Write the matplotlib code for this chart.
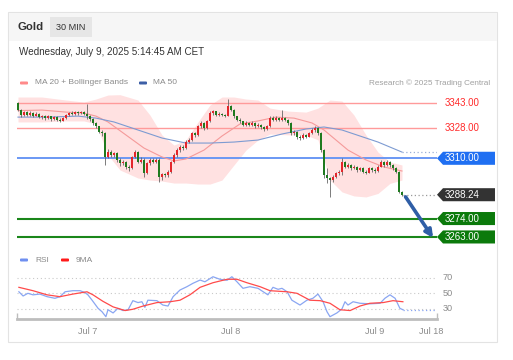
import numpy as np
import matplotlib.pyplot as plt
from matplotlib.patches import Rectangle, Polygon, FancyBboxPatch

plt.rcParams['font.family'] = ['Liberation Sans', 'DejaVu Sans']

# 30-minute candles (bar index 0 = Jul 4 afternoon, last = Jul 9 ~05:00)
opens = [3343.0, 3339.0, 3336.0, 3337.5, 3336.0, 3337.0, 3335.5, 3336.5, 3334.5, 3335.5,
         3334.0, 3335.0, 3333.5, 3334.5, 3333.0, 3332.5, 3334.0, 3336.0, 3337.0, 3336.5,
         3337.5, 3337.0, 3337.5, 3336.5, 3335.0, 3333.5, 3331.0, 3329.0, 3326.0, 3325.0,
         3311.0, 3314.0, 3312.0, 3313.0, 3309.0, 3307.0, 3308.0, 3305.0, 3304.0, 3311.0,
         3314.0, 3308.0, 3309.0, 3301.0, 3307.0, 3309.0, 3308.0, 3309.0, 3299.0, 3300.5,
         3300.0, 3302.0, 3308.0, 3312.0, 3315.0, 3317.0, 3316.0, 3320.0, 3321.0, 3325.0,
         3324.0, 3329.0, 3331.0, 3328.0, 3332.0, 3337.0, 3338.0, 3336.0, 3336.5, 3336.0,
         3335.5, 3341.0, 3339.0, 3335.0, 3333.0, 3332.0, 3330.0, 3331.0, 3330.0, 3331.0,
         3329.0, 3330.0, 3328.5, 3327.5, 3329.0, 3334.0, 3333.0, 3334.0, 3333.0, 3334.0,
         3333.0, 3331.0, 3325.0, 3326.0, 3323.0, 3322.0, 3324.0, 3323.0, 3325.0, 3327.0,
         3328.0, 3325.0, 3315.0, 3300.0, 3298.0, 3297.0, 3299.0, 3301.0, 3302.0, 3308.0,
         3305.0, 3306.0, 3304.0, 3305.0, 3303.0, 3304.0, 3302.0, 3301.5, 3304.0, 3303.0,
         3302.5, 3305.0, 3308.0, 3306.0, 3308.0, 3306.0, 3304.0, 3302.0, 3290.0]
closes = [3339.0, 3336.0, 3337.5, 3336.0, 3337.0, 3335.5, 3336.5, 3334.5, 3335.5, 3334.0,
          3335.0, 3333.5, 3334.5, 3333.0, 3332.5, 3334.0, 3336.0, 3337.0, 3336.5, 3337.5,
          3337.0, 3337.5, 3336.5, 3335.0, 3333.5, 3331.0, 3329.0, 3326.0, 3325.0, 3311.0,
          3314.0, 3312.0, 3313.0, 3309.0, 3307.0, 3308.0, 3305.0, 3304.0, 3311.0, 3314.0,
          3308.0, 3309.0, 3301.0, 3307.0, 3309.0, 3308.0, 3309.0, 3299.0, 3300.5, 3300.0,
          3302.0, 3308.0, 3312.0, 3315.0, 3317.0, 3316.0, 3320.0, 3321.0, 3325.0, 3324.0,
          3329.0, 3331.0, 3328.0, 3332.0, 3337.0, 3338.0, 3336.0, 3336.5, 3336.0, 3335.5,
          3341.0, 3339.0, 3335.0, 3333.0, 3332.0, 3330.0, 3331.0, 3330.0, 3331.0, 3329.0,
          3330.0, 3328.5, 3327.5, 3329.0, 3334.0, 3333.0, 3334.0, 3333.0, 3334.0, 3333.0,
          3331.0, 3325.0, 3326.0, 3323.0, 3322.0, 3324.0, 3323.0, 3325.0, 3327.0, 3328.0,
          3325.0, 3315.0, 3300.0, 3298.0, 3297.0, 3299.0, 3301.0, 3302.0, 3308.0, 3305.0,
          3306.0, 3304.0, 3305.0, 3303.0, 3304.0, 3302.0, 3301.5, 3304.0, 3303.0, 3302.5,
          3305.0, 3308.0, 3306.0, 3308.0, 3306.0, 3304.0, 3302.0, 3290.0, 3288.24]
highs = [3343.8, 3339.5, 3338.5, 3338.0, 3338.0, 3337.5, 3337.5, 3337.0, 3336.0, 3336.0,
         3336.0, 3335.5, 3335.5, 3335.0, 3334.0, 3334.5, 3336.5, 3337.5, 3338.0, 3338.0,
         3338.0, 3338.0, 3338.0, 3342.5, 3336.0, 3334.0, 3331.5, 3329.5, 3327.0, 3326.0,
         3315.5, 3315.0, 3314.0, 3313.5, 3310.0, 3309.0, 3308.5, 3306.0, 3311.5, 3315.0,
         3314.5, 3310.5, 3310.0, 3308.0, 3310.0, 3310.0, 3310.0, 3310.0, 3301.5, 3301.5,
         3303.0, 3308.5, 3313.0, 3316.0, 3318.0, 3318.0, 3321.0, 3322.0, 3326.0, 3326.0,
         3330.0, 3332.0, 3331.5, 3333.0, 3338.0, 3339.0, 3338.5, 3337.5, 3337.0, 3336.5,
         3345.5, 3342.0, 3339.5, 3335.5, 3334.0, 3332.5, 3332.0, 3331.5, 3332.0, 3331.5,
         3331.0, 3330.5, 3329.0, 3330.0, 3335.0, 3335.0, 3335.0, 3334.5, 3339.0, 3334.5,
         3333.5, 3331.5, 3327.0, 3326.5, 3324.0, 3325.0, 3324.5, 3326.0, 3328.0, 3329.0,
         3328.5, 3325.5, 3315.5, 3304.0, 3299.0, 3300.0, 3302.0, 3303.0, 3310.0, 3308.5,
         3307.0, 3306.5, 3306.0, 3305.5, 3305.0, 3304.5, 3303.0, 3305.0, 3304.5, 3304.0,
         3306.0, 3309.0, 3308.5, 3309.0, 3308.5, 3306.5, 3305.0, 3302.5, 3290.5]
lows = [3338.0, 3334.5, 3335.0, 3335.0, 3335.5, 3334.5, 3335.0, 3334.0, 3333.5, 3333.0,
        3333.5, 3332.5, 3333.0, 3332.0, 3331.5, 3332.0, 3333.5, 3335.5, 3336.0, 3336.0,
        3336.0, 3336.5, 3336.0, 3333.5, 3332.5, 3330.0, 3328.0, 3325.0, 3323.5, 3306.0,
        3310.0, 3310.5, 3311.0, 3308.0, 3305.5, 3306.0, 3303.5, 3302.5, 3303.5, 3310.0,
        3307.0, 3307.0, 3299.0, 3300.5, 3306.0, 3307.0, 3307.0, 3296.0, 3297.0, 3299.0,
        3299.0, 3301.0, 3307.0, 3311.0, 3314.0, 3315.0, 3315.5, 3319.0, 3320.5, 3323.0,
        3323.5, 3328.0, 3327.0, 3327.5, 3331.5, 3336.0, 3335.0, 3335.5, 3335.0, 3334.5,
        3335.0, 3338.0, 3334.0, 3332.0, 3331.0, 3329.0, 3329.5, 3329.0, 3329.5, 3328.0,
        3328.5, 3327.5, 3326.5, 3327.0, 3328.5, 3332.0, 3332.5, 3332.0, 3332.5, 3332.0,
        3330.0, 3324.0, 3324.0, 3321.5, 3321.0, 3321.5, 3322.0, 3322.5, 3324.5, 3326.0,
        3324.0, 3313.5, 3298.5, 3295.0, 3287.0, 3296.0, 3298.5, 3300.0, 3300.0, 3304.0,
        3304.0, 3303.0, 3303.5, 3302.0, 3302.5, 3301.0, 3300.5, 3301.0, 3302.0, 3301.5,
        3302.0, 3304.5, 3305.0, 3305.5, 3305.0, 3303.0, 3301.0, 3289.0, 3287.5]

# indicators (bar index, price)
ma50_bar = [0, 10, 20, 26, 32, 40, 48, 56, 64, 72, 80, 88, 96, 102, 108, 114, 120, 128]
ma50_val = [3334.6, 3334.6, 3335.2, 3334.0, 3331.7, 3326.9, 3322.1, 3319.1, 3319.1, 3319.7,
            3320.9, 3324.5, 3327.5, 3328.7, 3326.9, 3323.3, 3319.7, 3313.7]
ma20_bar = [0, 8, 16, 22, 26, 30, 36, 42, 48, 52, 56, 62, 68, 74, 80, 86, 92, 98, 102, 106,
            110, 116, 122, 128]
ma20_val = [3338.5, 3338.8, 3337.6, 3337.0, 3335.2, 3331.7, 3323.9, 3316.1, 3310.8, 3308.4,
            3309.6, 3314.9, 3323.3, 3330.5, 3332.3, 3334.6, 3334.0, 3331.1, 3326.9, 3320.9,
            3314.9, 3309.0, 3304.8, 3302.4]
bb_bar = [0, 8, 16, 22, 26, 30, 34, 40, 44, 48, 52, 56, 60, 64, 68, 72, 76, 80, 84, 90, 96,
          100, 104, 108, 112, 116, 120, 124, 128]
bb_upper = [3346.6, 3346.6, 3344.8, 3343.6, 3345.4, 3347.8, 3348.0, 3344.8, 3335.8, 3323.9,
            3317.9, 3320.9, 3331.7, 3341.8, 3346.6, 3346.6, 3345.4, 3344.8, 3340.0, 3338.2,
            3337.6, 3340.0, 3344.8, 3344.2, 3335.8, 3323.9, 3313.7, 3307.8, 3306.0]
bb_lower = [3331.7, 3331.7, 3332.3, 3332.3, 3330.5, 3312.0, 3303.0, 3298.2, 3297.0, 3296.4,
            3295.2, 3295.2, 3294.6, 3294.6, 3297.0, 3306.0, 3314.9, 3320.9, 3324.5, 3324.0,
            3323.9, 3321.0, 3297.0, 3289.9, 3287.5, 3286.9, 3289.0, 3295.0, 3297.0]

levels_res = [3343.0, 3328.0]
pivot = 3310.0
levels_sup = [3274.0, 3263.0]

rsi_bar = [0.3, 1.7, 3.3, 5, 7.3, 9.7, 12.3, 14, 15.7, 18.3, 20.7, 22.3, 23.3, 24.7, 26.7,
           28, 29.3, 30, 31.7, 33.3, 35, 36.7, 38.3, 40, 41.3, 42.3, 43.3, 46.3, 48.3, 50,
           51.7, 54, 56.3, 58.3, 60.7, 62.3, 65, 67.3, 69.7, 71.3, 73, 75, 77.3, 80, 83.3,
           85, 86.7, 88, 89.7, 91.3, 94, 96.3, 98.3, 100, 101.7, 103, 104, 106.3, 108, 109,
           110, 111.7, 114, 117.3, 120.7, 122.3, 124, 125.7, 127.3, 128.3]
rsi_val = [52, 46.5, 50, 48, 49, 45.6, 43.5, 45.6, 52, 53.4, 53.4, 51, 48, 41, 30.4,
           26, 19.5, 28.6, 24.4, 30.4, 27.5, 28.6, 40.4, 37.9, 39, 31.7, 41, 40.4, 34.7, 33.4,
           45.6, 54.3, 58.6, 63, 67.3, 65, 71.6, 68.3, 67, 71.6, 65, 56.5, 58.6, 56.5, 48,
           57.8, 55.2, 56.5, 52, 41, 34.7, 41, 43.5, 49, 39, 26, 19.5, 24.4, 29.7, 39,
           34.7, 39, 37, 36.3, 37, 43.5, 48, 43.5, 30.4, 28.6]
ma9_bar = [0.3, 5, 9.7, 14, 18.3, 23, 25, 28.3, 31.7, 35.7, 38.3, 41.7, 46.3, 50.7, 54,
           57.3, 60.7, 65, 69.7, 73, 76.3, 80.7, 84, 89.7, 93, 97.3, 100.7, 104, 107.3,
           110.7, 114, 117.3, 121.7, 125, 128.3]
ma9_val = [57.8, 53.4, 48, 45.6, 49, 52, 48, 39.6, 32.3, 27.5, 29.2, 33.4, 37.9, 39, 41,
           48, 57.8, 63.8, 68.3, 68.3, 63.8, 58.6, 53.4, 52, 50, 41, 40.4, 37, 28.6,
           27.5, 33.4, 37, 37.9, 40.4, 39]

date_ticks = [23.3, 71, 119, 137.7]
date_labels = ['Jul 7', 'Jul 8', 'Jul 9', 'Jul 18']
rsi_levels = [70, 50, 30]

W, H = 513, 360
fig = plt.figure(figsize=(W / 100, H / 100), dpi=100)


def px_axes(x0, y0, x1, y1):
    return fig.add_axes([x0 / W, 1 - y1 / H, (x1 - x0) / W, (y1 - y0) / H])


# background card
bg = px_axes(0, 0, W, H)
bg.set_xlim(0, W)
bg.set_ylim(H, 0)
bg.axis('off')
bg.add_patch(Rectangle((8, 12), 489, 330, facecolor='white', edgecolor='#e3e3e3', lw=0.8))
bg.add_patch(Rectangle((8.5, 12.5), 488, 28, facecolor='#f6f6f6', edgecolor='none'))
bg.text(17, 27, 'Gold', fontsize=8.2, fontweight='bold', color='#333333', va='center')
bg.add_patch(Rectangle((50, 17), 42, 20, facecolor='#e6e6e6', edgecolor='none'))
bg.text(71, 27, '30 MIN', fontsize=6.6, color='#333333', va='center', ha='center')
bg.text(19, 52, 'Wednesday, July 9, 2025 5:14:45 AM CET', fontsize=7.1, color='#333333',
        va='center')
# legends
bg.add_patch(FancyBboxPatch((20, 81.5), 8, 3, boxstyle='round,pad=0,rounding_size=1',
                            facecolor='#ff8a8a', edgecolor='none'))
bg.text(35, 83, 'MA 20 + Bollinger Bands', fontsize=6, color='#8a8a8a', va='center')
bg.add_patch(FancyBboxPatch((139, 81.5), 8, 3, boxstyle='round,pad=0,rounding_size=1',
                            facecolor='#3d5fa6', edgecolor='none'))
bg.text(153, 83, 'MA 50', fontsize=6, color='#8a8a8a', va='center')
bg.text(490, 83, 'Research \u00a9 2025 Trading Central', fontsize=5.9, color='#a0a0a0',
        va='center', ha='right')
bg.add_patch(FancyBboxPatch((20, 258.5), 8, 3, boxstyle='round,pad=0,rounding_size=1',
                            facecolor='#6f8ff0', edgecolor='none'))
bg.text(35, 260, 'RSI', fontsize=6, color='#8a8a8a', va='center')
bg.add_patch(FancyBboxPatch((61, 258.5), 8, 3, boxstyle='round,pad=0,rounding_size=1',
                            facecolor='#ff1a1a', edgecolor='none'))
bg.text(76, 260, '9MA', fontsize=6, color='#8a8a8a', va='center')

# main price chart
x_lo, x_hi = -0.33, 139.67
ax = px_axes(17, 92, 437, 246)
ax.set_xlim(x_lo, x_hi)
ax.set_ylim(3257.6, 3349.6)
ax.axis('off')

ax.fill_between(bb_bar, bb_lower, bb_upper, color='#ffdcdc', alpha=0.85, lw=0, zorder=1)
for lv in levels_res:
    ax.plot([x_lo, x_hi], [lv, lv], color='#ff9a9a', lw=1, zorder=2)
ax.plot([x_lo, x_hi], [pivot, pivot], color='#6a98f4', lw=1.4, zorder=2)
for lv in levels_sup:
    ax.plot([x_lo, x_hi], [lv, lv], color='#1a861a', lw=1.5, zorder=2)

ax.plot(ma20_bar, ma20_val, color='#f59a9a', lw=0.8, zorder=3)
ax.plot(ma50_bar, ma50_val, color='#7d9bd2', lw=0.8, zorder=3)
ax.plot([ma50_bar[-1], x_hi], [ma50_val[-1], ma50_val[-1]], color='#9bb0d8', lw=0.9,
        ls=(0, (1, 2)), zorder=3)

bars = np.arange(len(closes))
o = np.array(opens)
c = np.array(closes)
up = c >= o
col = np.where(up, '#e3262b', '#1f7a1f')
ax.vlines(bars, lows, highs, colors='#666666', lw=0.6, zorder=4)
ax.bar(bars, np.maximum(np.abs(c - o), 0.35), bottom=np.minimum(o, c), width=0.75,
       color=col, zorder=5)

ax.plot([bars[-1] + 0.5, x_hi], [closes[-1], closes[-1]], color='#9a9a9a', lw=0.9,
        ls=(0, (1, 2)), zorder=3)

# forecast arrow
ax.annotate('', xy=(x_hi - 1.3, levels_sup[1] - 0.6), xytext=(bars[-1] + 1.2, closes[-1] - 1.3),
            arrowprops=dict(arrowstyle='-|>', color='#2f5ea6', lw=2.6, mutation_scale=11,
                            shrinkA=0, shrinkB=0),
            annotation_clip=False, zorder=6)


def price_tag(val, face, text):
    h = 3.9
    pts = [(x_hi, val), (x_hi + 2, val + h), (159, val + h), (159, val - h), (x_hi + 2, val - h)]
    ax.add_patch(Polygon(pts, closed=True, facecolor=face, edgecolor='none', clip_on=False,
                         zorder=6))
    ax.text(x_hi + 2.6, val, text, fontsize=7, color='white', va='center', ha='left',
            clip_on=False, zorder=7)


for lv in levels_res:
    ax.text(x_hi + 2.4, lv, f'{lv:.2f}', fontsize=7, color='#ff2a2a', va='center',
            ha='left', clip_on=False)
price_tag(pivot, '#1f6ff2', f'{pivot:.2f}')
price_tag(closes[-1], '#333333', f'{closes[-1]:.2f}')
for lv in levels_sup:
    price_tag(lv, '#0b7a0b', f'{lv:.2f}')

# RSI panel
rx = px_axes(17, 265, 437, 319)
rx.set_xlim(x_lo, x_hi)
rx.set_ylim(16.5, 86.9)
for s in ['top', 'left', 'right']:
    rx.spines[s].set_visible(False)
rx.spines['bottom'].set_color('#bdbdbd')
rx.spines['bottom'].set_linewidth(2)
rx.set_yticks([])
rx.set_xticks(date_ticks)
rx.set_xticklabels(date_labels)
rx.tick_params(axis='x', length=0, pad=5.5, labelsize=6.6, labelcolor='#8c8c8c')
rx.set_xticks([x_lo, x_hi], minor=True)
rx.tick_params(axis='x', which='minor', direction='in', length=4, width=1, color='#bdbdbd')
rx.patch.set_alpha(0)

for lv in rsi_levels:
    rx.plot([x_lo, x_hi], [lv, lv], color='#c9c9c9', lw=0.8, ls=(0, (1, 2.5)))
    rx.text(x_hi + 2, lv, str(lv), fontsize=6.6, color='#8c8c8c', va='center', ha='left',
            clip_on=False)
rx.plot(rsi_bar, rsi_val, color='#8aa6f2', lw=0.9)
rx.plot([rsi_bar[-1], x_hi], [rsi_val[-1], rsi_val[-1]], color='#8aa6f2', lw=0.9,
        ls=(0, (1, 2)))
rx.plot(ma9_bar, ma9_val, color='#ff4a4a', lw=0.9)

fig.savefig('out.png', dpi=100)
